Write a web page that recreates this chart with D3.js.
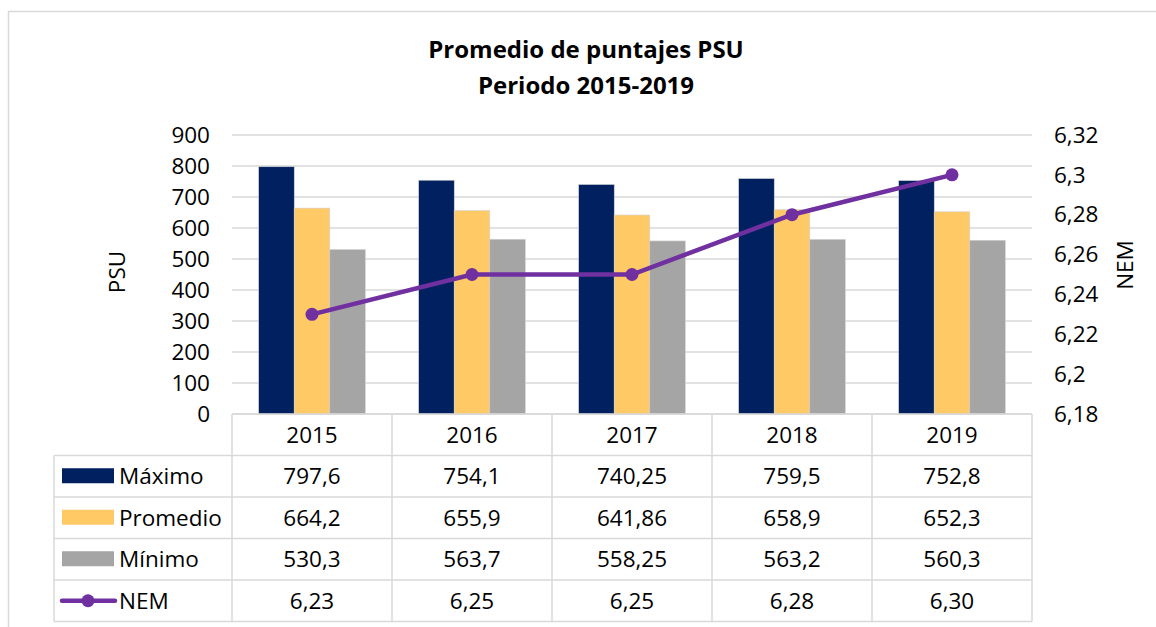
<!DOCTYPE html>
<html>
<head>
<meta charset="utf-8">
<script src="https://cdn.jsdelivr.net/npm/d3@7"></script>
<style>
  body { margin: 0; background: #fff; }
  svg { display: block; font-family: "Open Sans", Lato, sans-serif; }
</style>
</head>
<body>
<svg id="chart" width="1156" height="627"></svg>
<script>
// data
const years = ['2015', '2016', '2017', '2018', '2019'];
const maximo = [797.6, 754.1, 740.25, 759.5, 752.8];
const promedio = [664.2, 655.9, 641.86, 658.9, 652.3];
const minimo = [530.3, 563.7, 558.25, 563.2, 560.3];
const nem = [6.23, 6.25, 6.25, 6.28, 6.30];
const psuTicks = [0, 100, 200, 300, 400, 500, 600, 700, 800, 900];
const nemTicks = [6.18, 6.20, 6.22, 6.24, 6.26, 6.28, 6.30, 6.32];

const barSeries = [
    { name: 'Máximo', values: maximo, color: '#002060' },
    { name: 'Promedio', values: promedio, color: '#ffc966' },
    { name: 'Mínimo', values: minimo, color: '#a5a5a5' }
];
const lineColor = '#7030a0';

const svg = d3.select('#chart');
const locale = d3.formatLocale({ decimal: ',', thousands: '.', grouping: [3], currency: ['$', ''] });
const fmtGeneral = v => String(v).replace('.', ',');
const fmtNem = locale.format('.2f');

const fontFamily = '"Open Sans", Lato, sans-serif';
const fontSize = 22.5;

// plot area
const plotLeft = 232, plotRight = 1032, plotTop = 135, plotBottom = 414;
const rowH = 41.5;

// outer chart border
svg.append('rect')
    .attr('x', 8.5).attr('y', 11.5)
    .attr('width', 1170).attr('height', 640)
    .attr('fill', 'none').attr('stroke', '#d9d9d9').attr('stroke-width', 1.5);

// title
const title = svg.append('text')
    .attr('text-anchor', 'middle')
    .attr('font-weight', 'bold')
    .attr('font-size', 24)
    .attr('fill', '#000');
title.append('tspan').attr('x', 586).attr('y', 58).text('Promedio de puntajes PSU');
title.append('tspan').attr('x', 586).attr('y', 94).text('Periodo 2015-2019');

const x = d3.scaleBand().domain(years).range([plotLeft, plotRight]);
// three bars of ~35.5px centred in each 160px band
const x1 = d3.scaleBand().domain(barSeries.map(s => s.name))
    .range([x.bandwidth() / 2 - 53.3, x.bandwidth() / 2 + 53.3]);

const y = d3.scaleLinear().domain([0, 900]).range([plotBottom, plotTop]);
const y2 = d3.scaleLinear().domain([6.18, 6.32]).range([plotBottom, plotTop]);

// gridlines
svg.append('g')
    .selectAll('line')
    .data(psuTicks)
    .join('line')
    .attr('x1', plotLeft).attr('x2', plotRight)
    .attr('y1', d => y(d)).attr('y2', d => y(d))
    .attr('stroke', '#d9d9d9').attr('stroke-width', 1.5);

// left axis
const yAxis = svg.append('g')
    .attr('transform', `translate(${plotLeft},0)`)
    .call(d3.axisLeft(y).tickValues(psuTicks).tickSize(0).tickPadding(22));
yAxis.select('.domain').remove();
yAxis.selectAll('text').attr('font-size', fontSize).attr('fill', '#000').attr('font-family', fontFamily);

// right axis
const y2Axis = svg.append('g')
    .attr('transform', `translate(${plotRight},0)`)
    .call(d3.axisRight(y2).tickValues(nemTicks).tickSize(0).tickPadding(22).tickFormat(locale.format('~g')));
y2Axis.select('.domain').remove();
y2Axis.selectAll('text').attr('font-size', fontSize).attr('fill', '#000').attr('font-family', fontFamily);

// axis titles
svg.append('text')
    .attr('transform', 'translate(125,272) rotate(-90)')
    .attr('text-anchor', 'middle')
    .attr('font-size', fontSize)
    .text('PSU');
svg.append('text')
    .attr('transform', 'translate(1133,265) rotate(-90)')
    .attr('text-anchor', 'middle')
    .attr('font-size', fontSize)
    .text('NEM');

// bars
svg.append('g')
    .selectAll('g')
    .data(barSeries)
    .join('g')
    .attr('fill', d => d.color)
    .selectAll('rect')
    .data(s => s.values.map((v, i) => ({ name: s.name, year: years[i], v })))
    .join('rect')
    .attr('x', d => x(d.year) + x1(d.name))
    .attr('width', x1.bandwidth())
    .attr('y', d => y(d.v))
    .attr('height', d => y(0) - y(d.v))
    .attr('stroke', '#d0d0d0').attr('stroke-width', 0.6);

// NEM line
const line = d3.line()
    .x((d, i) => x(years[i]) + x.bandwidth() / 2)
    .y(d => y2(d));
svg.append('path')
    .datum(nem)
    .attr('d', line)
    .attr('fill', 'none')
    .attr('stroke', lineColor)
    .attr('stroke-width', 4.5)
    .attr('stroke-linecap', 'round');
svg.append('g')
    .selectAll('circle')
    .data(nem)
    .join('circle')
    .attr('cx', (d, i) => x(years[i]) + x.bandwidth() / 2)
    .attr('cy', d => y2(d))
    .attr('r', 6.5)
    .attr('fill', lineColor);

// data table
const table = svg.append('g');
const gridColor = '#d9d9d9';
const tableLeft = 54;
const tableBottom = plotBottom + rowH * 5;

// horizontal lines
[0, 1, 2, 3, 4, 5].forEach(r => {
    const yy = plotBottom + r * rowH;
    table.append('line')
        .attr('x1', r === 0 ? plotLeft : tableLeft).attr('x2', plotRight)
        .attr('y1', yy).attr('y2', yy)
        .attr('stroke', gridColor).attr('stroke-width', 1.5);
});
// vertical lines
table.append('line')
    .attr('x1', tableLeft).attr('x2', tableLeft)
    .attr('y1', plotBottom + rowH).attr('y2', tableBottom)
    .attr('stroke', gridColor).attr('stroke-width', 1.5);
years.forEach(yr => {
    table.append('line')
        .attr('x1', x(yr)).attr('x2', x(yr))
        .attr('y1', plotBottom).attr('y2', tableBottom)
        .attr('stroke', gridColor).attr('stroke-width', 1.5);
});
table.append('line')
    .attr('x1', plotRight).attr('x2', plotRight)
    .attr('y1', plotBottom).attr('y2', tableBottom)
    .attr('stroke', gridColor).attr('stroke-width', 1.5);

// header years
table.selectAll('.yr')
    .data(years)
    .join('text')
    .attr('class', 'yr')
    .attr('x', d => x(d) + x.bandwidth() / 2)
    .attr('y', plotBottom + rowH / 2 + 8)
    .attr('text-anchor', 'middle')
    .attr('font-size', fontSize)
    .text(d => d);

const rows = barSeries.map(s => ({ name: s.name, color: s.color, values: s.values, fmt: fmtGeneral, kind: 'bar' }))
    .concat([{ name: 'NEM', color: lineColor, values: nem, fmt: fmtNem, kind: 'line' }]);

rows.forEach((row, r) => {
    const cy = plotBottom + rowH * (r + 1) + rowH / 2;
    if (row.kind === 'bar') {
        table.append('rect')
            .attr('x', 62).attr('y', cy - 8)
            .attr('width', 52).attr('height', 15)
            .attr('fill', row.color);
    } else {
        table.append('line')
            .attr('x1', 62).attr('x2', 115)
            .attr('y1', cy).attr('y2', cy)
            .attr('stroke', row.color).attr('stroke-width', 4.5)
            .attr('stroke-linecap', 'round');
        table.append('circle')
            .attr('cx', 88).attr('cy', cy).attr('r', 6.5)
            .attr('fill', row.color);
    }
    table.append('text')
        .attr('x', 119).attr('y', cy + 8)
        .attr('font-size', fontSize)
        .text(row.name);
    table.append('g')
        .selectAll('text')
        .data(row.values)
        .join('text')
        .attr('x', (d, i) => x(years[i]) + x.bandwidth() / 2)
        .attr('y', cy + 8)
        .attr('text-anchor', 'middle')
        .attr('font-size', fontSize)
        .text(d => row.fmt(d));
});
</script>
</body>
</html>
